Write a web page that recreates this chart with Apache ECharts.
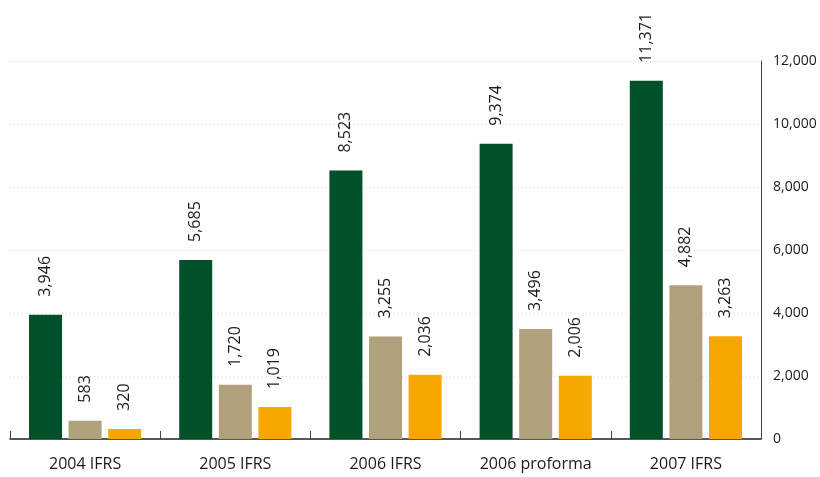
<!DOCTYPE html>
<html>
<head>
<meta charset="utf-8">
<script src="https://cdn.jsdelivr.net/npm/echarts@6/dist/echarts.min.js"></script>
<style>
  html, body { margin: 0; padding: 0; background: #fff; }
  #chart { width: 820px; height: 477px; }
</style>
</head>
<body>
<div id="chart"></div>
<script>
// Categories and three series per category
const categories = ['2004 IFRS', '2005 IFRS', '2006 IFRS', '2006 proforma', '2007 IFRS'];
const seriesA = [3946, 5685, 8523, 9374, 11371];
const seriesB = [583, 1720, 3255, 3496, 4882];
const seriesC = [320, 1019, 2036, 2006, 3263];
const colors = ['#00502a', '#b1a07c', '#f6a800'];

const fontFamily = '"Open Sans", "Noto Sans", sans-serif';

function barSeries(data, color) {
  return {
    type: 'bar',
    data: data,
    barWidth: 33,
    barGap: '20%',
    itemStyle: { color: color },
    label: {
      show: true,
      position: 'top',
      rotate: 90,
      align: 'left',
      verticalAlign: 'middle',
      distance: 16,
      offset: [2, 0],
      color: '#1a1a1a',
      fontSize: 16,
      fontFamily: fontFamily,
      formatter: p => p.value.toLocaleString('en-US')
    }
  };
}

const chart = echarts.init(document.getElementById('chart'), null, { renderer: 'canvas' });
chart.setOption({
  animation: false,
  backgroundColor: '#ffffff',
  grid: { left: 10, right: 59, top: 61, bottom: 38, containLabel: false },
  xAxis: {
    type: 'category',
    data: categories,
    axisLine: { show: true, lineStyle: { color: '#222', width: 1.5 } },
    axisTick: { show: true, inside: true, length: 8, lineStyle: { color: '#444' } },
    axisLabel: { color: '#1a1a1a', fontSize: 16, fontFamily: fontFamily, margin: 17 },
    splitLine: { show: false }
  },
  yAxis: {
    type: 'value',
    position: 'right',
    min: 0,
    max: 12000,
    interval: 2000,
    axisLine: { show: true, lineStyle: { color: '#444', width: 1 } },
    axisTick: { show: false },
    axisLabel: {
      color: '#1a1a1a', fontSize: 14, fontFamily: fontFamily, margin: 12,
      formatter: v => v.toLocaleString('en-US')
    },
    splitLine: { show: true, lineStyle: { color: '#d8d8d8', type: [1, 3], width: 1 } }
  },
  series: [barSeries(seriesA, colors[0]), barSeries(seriesB, colors[1]), barSeries(seriesC, colors[2])]
});
</script>
</body>
</html>
